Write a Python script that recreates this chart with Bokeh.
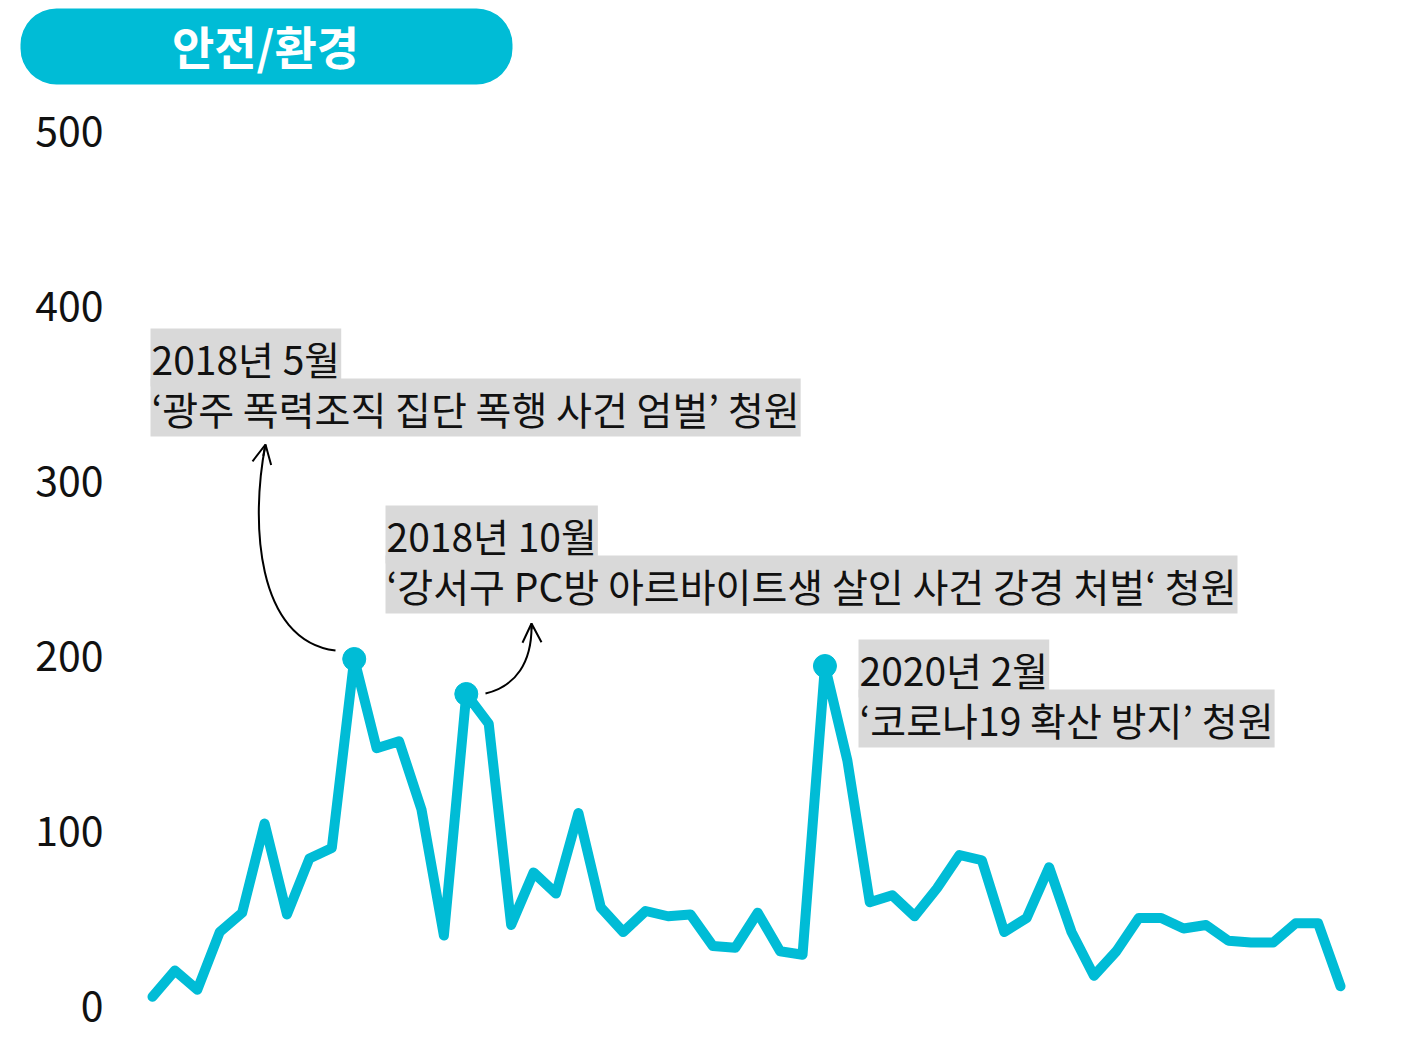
from bokeh.plotting import figure
from bokeh.models import Range1d, FixedTicker, Label, BoxAnnotation, Arrow, OpenHead, ColumnDataSource
from bokeh.layouts import column
from bokeh.embed import file_html
from bokeh.resources import INLINE
import pandas as pd

# ---------------- data ----------------
months = [str(p) for p in pd.period_range("2017-08", "2022-01", freq="M")]
values = [5, 20, 9, 42, 53, 104, 52, 84, 90, 198,
          147, 151, 112, 40, 178, 161, 46, 76, 64, 110,
          56, 42, 54, 51, 52, 34, 33, 53, 31, 29,
          194, 140, 59, 63, 51, 67, 86, 83, 42, 50,
          79, 42, 17, 31, 50, 50, 44, 46, 37, 36,
          36, 47, 47, 11]
peak_months = ["2018-05", "2018-10", "2020-02"]
y_ticks = [0, 100, 200, 300, 400, 500]
title_text = "안전/환경"
notes = [
    ("2018년 5월", "‘광주 폭력조직 집단 폭행 사건 엄벌’ 청원"),
    ("2018년 10월", "‘강서구 PC방 아르바이트생 살인 사건 강경 처벌‘ 청원"),
    ("2020년 2월", "‘코로나19 확산 방지’ 청원"),
]

CYAN = "#00bcd6"
FONT = "Noto Sans CJK KR"
W = 1402
TOP_H = 95
MAIN_H = 1061 - TOP_H

# ---------------- title strip ----------------
t = figure(width=W, height=TOP_H, x_range=Range1d(0, W), y_range=Range1d(TOP_H, 0),
           output_backend="svg", toolbar_location=None,
           x_axis_type=None, y_axis_type=None,
           min_border=0, min_border_left=0, min_border_right=0,
           min_border_top=0, min_border_bottom=0)
t.frame_align = False
t.outline_line_color = None
t.grid.visible = False
t.add_layout(BoxAnnotation(left=20, right=512, top=8, bottom=84,
                           fill_color=CYAN, fill_alpha=1.0, line_color=None,
                           border_radius=36))
t.add_layout(Label(x=265, y=44, text=title_text, text_align="center", text_baseline="middle",
                   text_font=FONT, text_font_style="bold", text_font_size="46px",
                   text_color="white"))

# ---------------- main chart ----------------
DX = 53 / 1188.0          # data units per pixel horizontally
def X(px):
    return (px - 152) * DX
def Y(px):
    return (1005 - px) / 1.75

x = list(range(len(values)))
src = ColumnDataSource(dict(x=x, y=values, month=months))
pk_x = [months.index(m) for m in peak_months]
pk_y = [values[i] for i in pk_x]

p = figure(width=W, height=MAIN_H,
           x_range=Range1d(X(112), X(W)), y_range=Range1d(-32, 520),
           output_backend="svg", toolbar_location=None, x_axis_type=None,
           min_border_left=112, min_border_right=0, min_border_top=0, min_border_bottom=0)
p.frame_align = False
p.outline_line_color = None
p.grid.visible = False
p.background_fill_color = "white"

ax = p.yaxis[0]
ax.ticker = FixedTicker(ticks=y_ticks)
ax.axis_line_color = None
ax.major_tick_line_color = None
ax.minor_tick_line_color = None
ax.major_tick_in = 0
ax.major_tick_out = 0
ax.major_label_standoff = 9
ax.major_label_text_font = FONT
ax.major_label_text_font_size = "41px"
ax.major_label_text_color = "#111111"

p.line("x", "y", source=src, line_color=CYAN, line_width=10,
       line_join="round", line_cap="round")
p.scatter(pk_x, pk_y, size=23, color=CYAN)

# annotation labels
note_pos = [(150, 357, 407), (385, 534, 584), (858, 668, 718)]
for (l1, l2), (lx, y1, y2) in zip(notes, note_pos):
    for txt, yy in ((l1, y1), (l2, y2)):
        p.add_layout(Label(x=X(lx), y=Y(yy), text=txt, text_align="left", text_baseline="middle",
                           text_font=FONT, text_font_size="39px", text_color="#111111",
                           background_fill_color="#d9d9d9", background_fill_alpha=1.0,
                           padding=dict(left=1, right=1, top=1, bottom=1)))

# curved arrows
curves = [((335, 650), (255, 640), (250, 520), (265, 444)),
          ((485, 693), (515, 686), (532, 662), (531, 623))]
for p0, c0, c1, p1 in curves:
    p.bezier(x0=[X(p0[0])], y0=[Y(p0[1])], x1=[X(p1[0])], y1=[Y(p1[1])],
             cx0=[X(c0[0])], cy0=[Y(c0[1])], cx1=[X(c1[0])], cy1=[Y(c1[1])],
             line_color="black", line_width=2)
    sx = p1[0] - 0.15 * (p1[0] - c1[0])
    sy = p1[1] - 0.15 * (p1[1] - c1[1])
    p.add_layout(Arrow(x_start=X(sx), y_start=Y(sy), x_end=X(p1[0]), y_end=Y(p1[1]),
                       line_color="black", line_width=2,
                       end=OpenHead(size=19, line_color="black", line_width=2)))

layout = column(t, p, spacing=0)
open("out.html", "w").write(file_html(layout, INLINE))
